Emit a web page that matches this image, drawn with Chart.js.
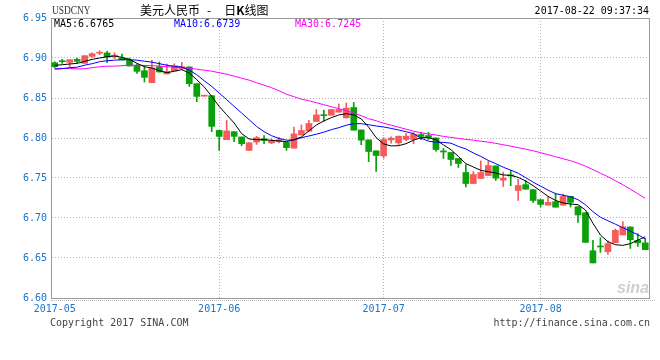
<!DOCTYPE html>
<html>
<head>
<meta charset="utf-8">
<script src="https://cdn.jsdelivr.net/npm/chart.js@4.4.1/dist/chart.umd.min.js"></script>
<style>
  body { margin: 0; background: #fff; }
  #wrap { position: relative; width: 660px; height: 360px; overflow: hidden; background: #fff; }
  #wrap canvas { position: absolute; left: 0; top: 0; }
  .t { position: absolute; white-space: nowrap; font: 10px "DejaVu Sans Mono", monospace; line-height: 12px; }
</style>
</head>
<body>
<div id="wrap">
  <canvas id="kline" width="660" height="360"></canvas>
  <div class="t" style="left:52px;top:3px;font:13px 'Liberation Serif',serif;line-height:13px;color:#333;transform:scaleX(0.72);transform-origin:0 0;">USDCNY</div>
  <div class="t" style="left:140px;top:2px;font:12px 'Noto Sans CJK SC',sans-serif;line-height:15px;color:#000;">美元人民币<span style="margin:0 13px 0 7px;">-</span>日<b>K</b>线图</div>
  <div class="t" style="right:11px;top:5px;color:#000;">2017-08-22 09:37:34</div>
  <div class="t" id="lg5" style="left:54px;top:18px;color:#000;"></div>
  <div class="t" id="lg10" style="left:174px;top:18px;color:#0000ff;"></div>
  <div class="t" id="lg30" style="left:295px;top:18px;color:#ff00ff;"></div>
  <div style="position:absolute;left:51px;top:300px;width:604px;border-top:1px dotted #bbb;"></div>
  <div class="t" style="left:617px;top:280px;font:italic bold 16px 'Liberation Sans',sans-serif;line-height:16px;color:#cfcfcf;">sina</div>
  <div class="t" style="left:50px;top:317px;color:#444;">Copyright 2017 SINA.COM</div>
  <div class="t" style="right:10px;top:317px;color:#444;">http://finance.sina.com.cn</div>
</div>
<script>
// daily candles, 2017-05 .. 2017-08-22
const opens = [6.8941, 6.8960, 6.8945, 6.8983, 6.8933, 6.9020, 6.9060, 6.9063, 6.9023, 6.9000,
  6.8975, 6.8908, 6.8841, 6.8691, 6.8891, 6.8800, 6.8838, 6.8866, 6.8888, 6.8679,
  6.8523, 6.8529, 6.8095, 6.7979, 6.8079, 6.8013, 6.7845, 6.7950, 6.7991, 6.7938,
  6.7954, 6.7945, 6.7873, 6.8038, 6.8085, 6.8206, 6.8285, 6.8285, 6.8323, 6.8251,
  6.8381, 6.8101, 6.7976, 6.7839, 6.7776, 6.7976, 6.7939, 6.7981, 6.7981, 6.8044,
  6.8031, 6.8001, 6.7838, 6.7819, 6.7744, 6.7569, 6.7431, 6.7494, 6.7531, 6.7651,
  6.7473, 6.7538, 6.7344, 6.7417, 6.7354, 6.7229, 6.7160, 6.7204, 6.7160, 6.7270,
  6.7141, 6.7066, 6.6591, 6.6648, 6.6579, 6.6691, 6.6788, 6.6888, 6.6720, 6.6689];
const closes = [6.8891, 6.8954, 6.8979, 6.8958, 6.9029, 6.9054, 6.9066, 6.9013, 6.9029, 6.8975,
  6.8900, 6.8833, 6.8758, 6.8875, 6.8825, 6.8833, 6.8904, 6.8891, 6.8679, 6.8520,
  6.8529, 6.8145, 6.8020, 6.8088, 6.8020, 6.7929, 6.7941, 6.8004, 6.7970, 6.7963,
  6.7979, 6.7879, 6.8051, 6.8094, 6.8181, 6.8289, 6.8279, 6.8356, 6.8356, 6.8373,
  6.8098, 6.7973, 6.7831, 6.7781, 6.7981, 6.7999, 6.8023, 6.8023, 6.8048, 6.8019,
  6.8006, 6.7856, 6.7825, 6.7731, 6.7681, 6.7431, 6.7544, 6.7569, 6.7656, 6.7498,
  6.7498, 6.7526, 6.7406, 6.7360, 6.7219, 6.7170, 6.7195, 6.7135, 6.7270, 6.7195,
  6.7038, 6.6695, 6.6438, 6.6638, 6.6679, 6.6845, 6.6891, 6.6729, 6.6689, 6.6604];
const highs = [6.8954, 6.8983, 6.8979, 6.9000, 6.9029, 6.9066, 6.9091, 6.9083, 6.9066, 6.9050,
  6.9000, 6.8925, 6.8908, 6.8975, 6.8950, 6.8925, 6.8929, 6.8946, 6.8891, 6.8679,
  6.8529, 6.8529, 6.8095, 6.8220, 6.8079, 6.8013, 6.7941, 6.8020, 6.8029, 6.7995,
  6.8004, 6.7945, 6.8138, 6.8163, 6.8220, 6.8356, 6.8348, 6.8356, 6.8426, 6.8438,
  6.8444, 6.8101, 6.7976, 6.7839, 6.8006, 6.8014, 6.8023, 6.8058, 6.8070, 6.8070,
  6.8070, 6.8001, 6.7869, 6.7819, 6.7744, 6.7669, 6.7581, 6.7714, 6.7710, 6.7651,
  6.7573, 6.7594, 6.7484, 6.7470, 6.7354, 6.7229, 6.7266, 6.7310, 6.7300, 6.7270,
  6.7141, 6.7066, 6.6720, 6.6754, 6.6716, 6.6863, 6.6954, 6.6888, 6.6804, 6.6745];
const lows = [6.8879, 6.8933, 6.8891, 6.8941, 6.8933, 6.9008, 6.9041, 6.8941, 6.8991, 6.8975,
  6.8900, 6.8808, 6.8700, 6.8691, 6.8825, 6.8800, 6.8838, 6.8854, 6.8645, 6.8454,
  6.8523, 6.8079, 6.7845, 6.7979, 6.7954, 6.7904, 6.7845, 6.7920, 6.7929, 6.7929,
  6.7938, 6.7845, 6.7873, 6.8038, 6.8085, 6.8206, 6.8210, 6.8285, 6.8323, 6.8251,
  6.8098, 6.7916, 6.7704, 6.7581, 6.7748, 6.7935, 6.7914, 6.7967, 6.7929, 6.7979,
  6.7979, 6.7835, 6.7744, 6.7656, 6.7631, 6.7389, 6.7431, 6.7494, 6.7531, 6.7469,
  6.7394, 6.7404, 6.7219, 6.7360, 6.7195, 6.7138, 6.7160, 6.7135, 6.7160, 6.7138,
  6.6945, 6.6695, 6.6438, 6.6570, 6.6545, 6.6691, 6.6788, 6.6620, 6.6645, 6.6604];

const ma5 = [6.8908, 6.8916, 6.8925, 6.8933, 6.8958, 6.8983, 6.9000, 6.9016, 6.9025, 6.9008,
  6.8983, 6.8933, 6.8891, 6.8875, 6.8841, 6.8816, 6.8835, 6.8854, 6.8813, 6.8729,
  6.8638, 6.8520, 6.8395, 6.8291, 6.8188, 6.8054, 6.7988, 6.7979, 6.7979, 6.7970,
  6.7963, 6.7954, 6.7979, 6.8013, 6.8088, 6.8163, 6.8213, 6.8254, 6.8288, 6.8304,
  6.8289, 6.8239, 6.8135, 6.8004, 6.7926, 6.7901, 6.7904, 6.7929, 6.7973, 6.8004,
  6.8004, 6.7979, 6.7913, 6.7854, 6.7770, 6.7679, 6.7638, 6.7595, 6.7579, 6.7563,
  6.7538, 6.7533, 6.7508, 6.7463, 6.7404, 6.7338, 6.7270, 6.7220, 6.7188, 6.7175,
  6.7166, 6.7100, 6.6933, 6.6788, 6.6704, 6.6666, 6.6658, 6.6679, 6.6723, 6.6765];
const ma10 = [6.8860, 6.8866, 6.8879, 6.8885, 6.8910, 6.8929, 6.8954, 6.8966, 6.8973, 6.8979,
  6.8979, 6.8973, 6.8960, 6.8948, 6.8929, 6.8910, 6.8895, 6.8888, 6.8848, 6.8791,
  6.8716, 6.8645, 6.8562, 6.8479, 6.8395, 6.8312, 6.8229, 6.8145, 6.8079, 6.8029,
  6.7995, 6.7973, 6.7975, 6.8004, 6.8025, 6.8048, 6.8073, 6.8104, 6.8129, 6.8160,
  6.8179, 6.8179, 6.8166, 6.8150, 6.8138, 6.8120, 6.8100, 6.8079, 6.8054, 6.7998,
  6.7960, 6.7948, 6.7945, 6.7935, 6.7895, 6.7863, 6.7813, 6.7770, 6.7720, 6.7679,
  6.7635, 6.7598, 6.7560, 6.7504, 6.7448, 6.7398, 6.7348, 6.7304, 6.7285, 6.7266,
  6.7229, 6.7166, 6.7079, 6.7010, 6.6966, 6.6923, 6.6879, 6.6835, 6.6791, 6.6739];
const ma30 = [6.8870, 6.8870, 6.8870, 6.8863, 6.8866, 6.8879, 6.8891, 6.8898, 6.8898, 6.8904,
  6.8910, 6.8910, 6.8908, 6.8904, 6.8898, 6.8891, 6.8885, 6.8879, 6.8873, 6.8860,
  6.8848, 6.8835, 6.8816, 6.8798, 6.8773, 6.8748, 6.8723, 6.8691, 6.8660, 6.8629,
  6.8591, 6.8548, 6.8516, 6.8485, 6.8466, 6.8441, 6.8416, 6.8391, 6.8366, 6.8341,
  6.8310, 6.8279, 6.8241, 6.8216, 6.8185, 6.8160, 6.8135, 6.8110, 6.8085, 6.8066,
  6.8050, 6.8038, 6.8020, 6.8008, 6.7995, 6.7983, 6.7973, 6.7960, 6.7948, 6.7933,
  6.7916, 6.7898, 6.7879, 6.7860, 6.7841, 6.7816, 6.7791, 6.7766, 6.7741, 6.7716,
  6.7685, 6.7648, 6.7604, 6.7560, 6.7516, 6.7466, 6.7416, 6.7360, 6.7304, 6.7245];

const monthIdx    = [0, 22, 44, 65];
const monthLabels = ['2017-05', '2017-06', '2017-07', '2017-08'];
const yTicks      = [6.60, 6.65, 6.70, 6.75, 6.80, 6.85, 6.90, 6.95];

const days = opens.map((_, i) => i);
const UP = '#f65b5b', DOWN = '#0aa00a', AXIS = '#1874cd', GRID = '#b4b4b4';
const candleColor = days.map(i => closes[i] >= opens[i] ? UP : DOWN);
const last = a => a[a.length - 1].toFixed(4);

document.getElementById('lg5').textContent  = 'MA5:'  + last(ma5);
document.getElementById('lg10').textContent = 'MA10:' + last(ma10);
document.getElementById('lg30').textContent = 'MA30:' + last(ma30);

const frame = {
  id: 'frame',
  afterDraw(chart) {
    const { ctx, chartArea: a } = chart;
    ctx.save();
    ctx.strokeStyle = '#999';
    ctx.lineWidth = 1;
    ctx.beginPath();
    ctx.moveTo(Math.round(a.left) + 0.5, Math.round(a.top) + 0.5);
    ctx.lineTo(Math.round(a.right) + 0.5, Math.round(a.top) + 0.5);
    ctx.lineTo(Math.round(a.right) + 0.5, Math.round(a.bottom) + 0.5);
    ctx.stroke();
    ctx.restore();
  }
};

const line = (data, color) => ({
  type: 'line', data, borderColor: color, borderWidth: 1,
  pointRadius: 0, tension: 0, fill: false, order: 0
});

new Chart(document.getElementById('kline'), {
  type: 'bar',
  data: {
    labels: days,
    datasets: [
      line(ma5, '#000000'),
      line(ma10, '#0000ff'),
      line(ma30, '#ff00ff'),
      { data: days.map(i => [opens[i], closes[i]]), backgroundColor: candleColor,
        barThickness: 6, minBarLength: 1, grouped: false, order: 1 },
      { data: days.map(i => [lows[i], highs[i]]), backgroundColor: candleColor,
        barThickness: 1, minBarLength: 1, grouped: false, order: 2 }
    ]
  },
  options: {
    responsive: false, animation: false,
    layout: { padding: { left: 0, right: 11, top: 18, bottom: 0 } },
    plugins: { legend: { display: false }, tooltip: { enabled: false } },
    scales: {
      x: {
        offset: true,
        grid: { offset: false, drawTicks: false, color: c => c.index === 0 ? 'rgba(0,0,0,0)' : GRID },
        border: { color: '#999', dash: [1, 2] },
        ticks: { autoSkip: false, maxRotation: 0, padding: 5, color: AXIS,
                 font: { family: 'DejaVu Sans Mono', size: 10 },
                 callback: (v, i) => monthLabels[i] },
        afterBuildTicks: s => { s.ticks = monthIdx.map(v => ({ value: v })); },
        afterFit: s => { s.height = 62; }
      },
      y: {
        min: 6.60, max: 6.95,
        grid: { drawTicks: false, color: GRID },
        border: { color: '#999', dash: [1, 2] },
        ticks: { padding: 4, color: AXIS, font: { family: 'DejaVu Sans Mono', size: 10 },
                 callback: v => v.toFixed(2) },
        afterBuildTicks: s => { s.ticks = yTicks.map(v => ({ value: v })); },
        afterFit: s => { s.width = 51; }
      }
    }
  },
  plugins: [frame]
});
</script>
</body>
</html>
